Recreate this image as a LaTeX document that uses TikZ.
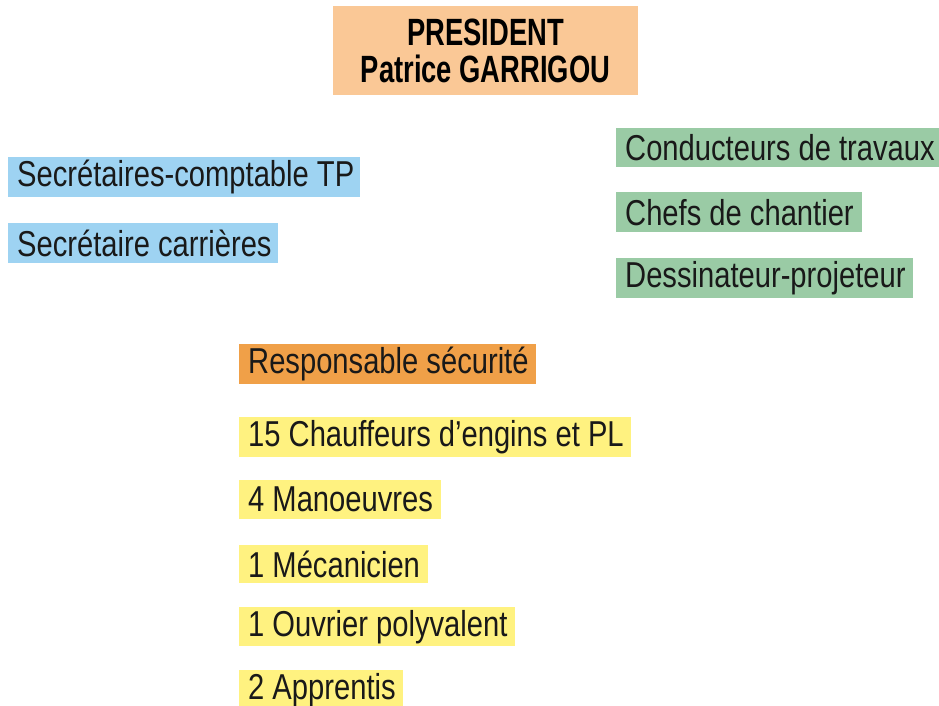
\documentclass[tikz,border=0pt]{standalone}
\usepackage{fontspec}
\newfontfamily\regfont{Liberation Sans}[FakeStretch=0.81]
\newfontfamily\presfont{Liberation Sans}[FakeStretch=0.72]
\definecolor{peach}{RGB}{250,200,150}
\definecolor{skyb}{RGB}{158,211,242}
\definecolor{sage}{RGB}{154,203,165}
\definecolor{orng}{RGB}{240,160,72}
\definecolor{yell}{RGB}{255,242,128}
\newcommand\lrow[2]{\makebox[#1][l]{#2}}
\begin{document}
\begin{tikzpicture}[x=1pt,y=-1pt,
  lbl/.style={anchor=north west, inner xsep=9pt, inner ysep=0pt, minimum height=40pt,
    font=\regfont\fontsize{36}{40}\selectfont, text=black!90},
  pbox/.style={fill=peach, inner sep=0pt, minimum width=305pt, minimum height=89pt,
    align=center, font=\presfont\bfseries\fontsize{38}{37}\selectfont}]
\useasboundingbox[fill=white] (0,0) rectangle (939,706);
\node[pbox] (pres) at (485.5,50.5) {PRESIDENT\\Patrice GARRIGOU};
\node[lbl, fill=skyb] (sec1) at (8,157) {\lrow{334pt}{Secrétaires-comptable TP}};
\node[lbl, fill=skyb] (sec2) at (8,223) {\lrow{252pt}{Secrétaire carrières}};
\node[lbl, fill=sage, minimum height=39pt] (cond) at (616,128) {\lrow{305pt}{Conducteurs de travaux}};
\node[lbl, fill=sage] (chef) at (616,192) {\lrow{228pt}{Chefs de chantier}};
\node[lbl, fill=sage] (dess) at (616,258) {\lrow{279pt}{Dessinateur-projeteur}};
\node[lbl, fill=orng] (resp) at (239,344) {\lrow{279pt}{Responsable sécurité}};
\node[lbl, fill=yell] (chau) at (239,417) {\lrow{374pt}{15 Chauffeurs d’engins et PL}};
\node[lbl, fill=yell, minimum height=39pt] (mano) at (239,480) {\lrow{184pt}{4 Manoeuvres}};
\node[lbl, fill=yell, minimum height=38pt] (meca) at (239,545) {\lrow{171pt}{1 Mécanicien}};
\node[lbl, fill=yell, minimum height=39pt] (ouvr) at (239,607) {\lrow{258pt}{1 Ouvrier polyvalent}};
\node[lbl, fill=yell, minimum height=40pt] (appr) at (239,670) {\lrow{146pt}{2 Apprentis}};
\end{tikzpicture}
\end{document}
